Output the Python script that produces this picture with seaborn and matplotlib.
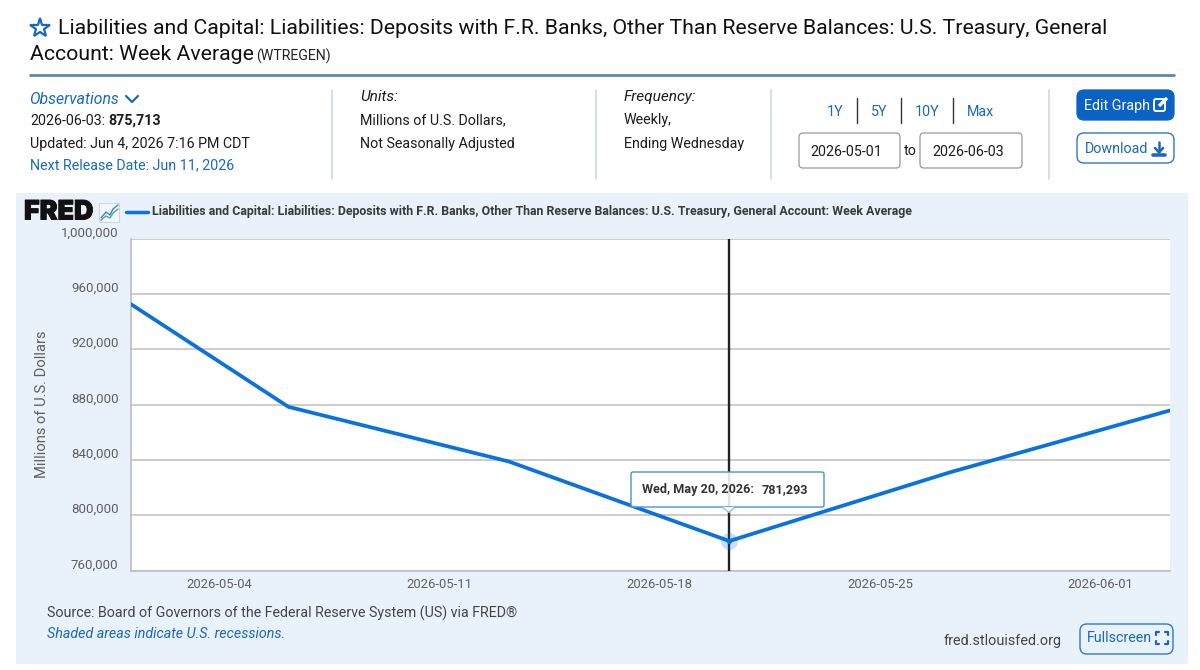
import matplotlib
matplotlib.use("Agg")
import matplotlib.pyplot as plt
import matplotlib.patches as mpatches
import matplotlib.patheffects as pe
from matplotlib.transforms import ScaledTranslation
import pandas as pd
import seaborn as sns

# Weekly series (range start plus Wednesday observations)
obs_dates = ["2026-05-01", "2026-05-06", "2026-05-13", "2026-05-20", "2026-05-27", "2026-06-03"]
obs_values = [952500, 878300, 838800, 781293, 830900, 875713]

y_ticks = [760000, 800000, 840000, 880000, 920000, 960000, 1000000]
x_tick_dates = ["2026-05-04", "2026-05-11", "2026-05-18", "2026-05-25", "2026-06-01"]

series_title = "Liabilities and Capital: Liabilities: Deposits with F.R. Banks, Other Than Reserve Balances: U.S. Treasury, General Account: Week Average"
hover_date = "2026-05-20"
hover_value = 781293
hover_label = "Wed, May 20, 2026:"

BLUE = "#0a72e0"
LINK = "#1a68bd"
BTN = "#0a63c4"
PANEL = "#e9f2fa"
GRID = "#c4c4c4"
TEXT = "#1b1b1b"
MUTED = "#5f5f5f"

sns.set_theme(style="white")
plt.rcParams["font.family"] = ["Roboto", "DejaVu Sans"]

W, H = 1200, 670
fig = plt.figure(figsize=(W / 100, H / 100), dpi=100, facecolor="white")

# Page layer in pixel coordinates (origin at top left)
page = fig.add_axes([0, 0, 1, 1], zorder=0)
page.set_xlim(0, W)
page.set_ylim(H, 0)
page.axis("off")


def label(layer, x, y, s, size=10.3, color=TEXT, **kw):
    kw.setdefault("va", "center")
    return layer.text(x, y + 1, s, fontsize=size, color=color, **kw)


def rounded(layer, x0, y0, x1, y1, r=6, fc="white", ec="#9a9a9a", lw=0.9, **kw):
    box = mpatches.FancyBboxPatch((x0 + r, y0 + r), x1 - x0 - 2 * r, y1 - y0 - 2 * r,
                                  boxstyle=f"round,pad={r},rounding_size={r}",
                                  fc=fc, ec=ec, lw=lw, **kw)
    layer.add_patch(box)
    return box


# Page header
page.plot([40.3], [27.5], marker="*", ms=14.5, mfc="none", mec=LINK, mew=1.6)
label(page, 58, 27.5, "Liabilities and Capital: Liabilities: Deposits with F.R. Banks, Other Than Reserve Balances: U.S. Treasury, General", size=15.33, color="#111111")
label(page, 30, 53, "Account: Week Average", size=15.33, color="#111111")
label(page, 256, 55, "(WTREGEN)", size=10.2, color="#222222")
page.plot([30, 1174], [74.5, 74.5], color="#5b81a6", lw=1.9)

for x in (332, 596, 771, 1049):
    page.plot([x, x], [90, 179], color="#ccd9e2", lw=1.2)

label(page, 29.5, 98, "Observations", color=LINK, style="italic", size=11.3)
page.plot([126, 132, 138], [96, 102, 96], color=LINK, lw=1.6)
label(page, 30, 120, "2026-06-03:")
label(page, 108, 120, "875,713", fontweight="bold")
label(page, 30, 143, "Updated: Jun 4, 2026 7:16 PM CDT")
label(page, 30, 164.5, "Next Release Date: Jun 11, 2026", color=LINK)

label(page, 360, 96, "Units:", style="italic", size=11.1)
label(page, 360, 119, "Millions of U.S. Dollars,")
label(page, 360, 143, "Not Seasonally Adjusted")
label(page, 624, 96, "Frequency:", style="italic", size=11.1)
label(page, 624, 119, "Weekly,")
label(page, 624, 143, "Ending Wednesday")

for x, s in zip((835, 879, 927, 980), ("1Y", "5Y", "10Y", "Max")):
    label(page, x, 111, s, color=LINK, ha="center")
for x in (857, 901, 953):
    page.plot([x, x], [98, 123], color="#333333", lw=1.0)

rounded(page, 799, 133, 900, 168, r=4)
rounded(page, 920, 133, 1022, 168, r=4)
label(page, 810, 151, "2026-05-01")
label(page, 932, 151, "2026-06-03")
label(page, 910, 150, "to", ha="center")

# Action buttons with their small glyphs
rounded(page, 1077, 90, 1174, 120, r=7, fc=BTN, ec=BTN)
label(page, 1084, 105, "Edit Graph", color="white")
page.add_patch(mpatches.FancyBboxPatch((1155, 100), 9, 10, boxstyle="round,pad=1,rounding_size=2", fc="none", ec="white", lw=1.4))
page.plot([1159, 1167], [106, 98], color="white", lw=2.4, solid_capstyle="butt")

rounded(page, 1077, 133, 1174, 163, r=7, ec="#2d78c8", lw=1.0)
label(page, 1085, 148, "Download", color=LINK)
page.plot([1159, 1159], [142, 152], color=LINK, lw=1.8)
page.plot([1155, 1159, 1163], [148, 152.5, 148], color=LINK, lw=1.8)
page.plot([1153, 1165], [155, 155], color=LINK, lw=2.6)

# Graph panel
page.add_patch(mpatches.Rectangle((16, 193), 1172, 471, fc=PANEL, ec="none"))
label(page, 24, 211.5, "FRED", size=19.3, color="#111111", fontweight="black", family="Inter",
      path_effects=[pe.withStroke(linewidth=0.7, foreground="#111111")])
page.add_patch(mpatches.Rectangle((99, 203), 20, 19, fc="#f4f7fa", ec="#cfd6dc", lw=0.8))
page.plot([101, 106, 110, 113, 118], [218, 212, 215, 209, 205], color="#3d85c6", lw=1.0)
page.plot([101, 106, 110, 113, 118], [220, 216, 218, 213, 209], color="#5aa58c", lw=1.0)
page.plot([126, 148], [212, 212], color=BLUE, lw=2.5)
label(page, 152, 211, series_title, size=8.9, color="#3a3a3a", fontweight="bold")
label(page, 47, 612.5, "Source: Board of Governors of the Federal Reserve System (US) via FRED®", color="#444444", size=10.22)
label(page, 47, 633.5, "Shaded areas indicate U.S. recessions.", color=LINK, style="italic", size=10.22)
label(page, 944, 640.5, "fred.stlouisfed.org", color="#444444", size=10.35)
rounded(page, 1080, 624, 1173, 654, r=7, fc=PANEL, ec="#2d78c8", lw=1.0)
label(page, 1087, 637.5, "Fullscreen", color=LINK)
for sx, sy in ((-1, -1), (1, -1), (-1, 1), (1, 1)):
    cx, cy = 1161.5 + sx * 6, 638 + sy * 6
    page.plot([cx - sx * 3, cx, cx], [cy, cy, cy - sy * 3], color=LINK, lw=1.6)

# Line chart
ax = fig.add_axes([131 / W, 1 - 570.5 / H, 1039 / W, 332 / H], zorder=1, facecolor="white")
frame = pd.DataFrame({"date": pd.to_datetime(obs_dates), "value": obs_values})
sns.lineplot(data=frame, x="date", y="value", ax=ax, color=BLUE, linewidth=2.7, zorder=4, errorbar=None)

ax.set_xlim(pd.Timestamp(obs_dates[0]), pd.Timestamp(obs_dates[-1]))
ax.set_ylim(y_ticks[0], y_ticks[-1])
ax.set_yticks(y_ticks)
ax.set_yticklabels([f"{v:,}" for v in y_ticks], fontsize=9.5, color=MUTED)
ax.tick_params(axis="y", length=0, pad=9)
# Tick labels sit just above their gridlines
for lab in ax.get_yticklabels():
    lab.set_transform(lab.get_transform() + ScaledTranslation(0, 7 / 100, fig.dpi_scale_trans))

# Date ticks fall on local midnight, five hours ahead of the UTC axis
tick_pos = [pd.Timestamp(d) - pd.Timedelta(hours=5) for d in x_tick_dates]
ax.set_xticks(tick_pos)
ax.set_xticklabels(x_tick_dates, fontsize=9.4, color=MUTED)
ax.tick_params(axis="x", length=5, width=0.8, color="#ccd6e0", pad=0.5)
ax.set_xlabel("")
ax.set_ylabel("Millions of U.S. Dollars", fontsize=10.6, color=MUTED)
ax.yaxis.set_label_coords((49 - 131) / 1039, 0.5)

ax.grid(axis="y", color=GRID, lw=1.2)
ax.grid(axis="x", visible=False)
ax.set_axisbelow(True)
sns.despine(ax=ax, top=True, right=True)
for side in ("left", "bottom"):
    ax.spines[side].set_color("#b9bfc4")
    ax.spines[side].set_linewidth(1.2)

hover_x = pd.Timestamp(hover_date)
ax.axvline(hover_x, color="#222222", lw=1.7, zorder=3)
ax.scatter([hover_x], [hover_value], s=150, color=BLUE, alpha=0.22, lw=0, zorder=5, clip_on=False)
ax.scatter([hover_x], [hover_value], s=14, color=BLUE, lw=0, zorder=6)

# Hover tooltip, anchored to the selected observation
top = fig.add_axes([0, 0, 1, 1], zorder=2, facecolor="none")
top.set_xlim(0, W)
top.set_ylim(H, 0)
top.axis("off")
rounded(top, 631, 472, 824, 507, r=2, fc=(1, 1, 1, 0.87), ec="#4a8fd6", lw=1.0, zorder=2)
top.add_patch(mpatches.Polygon([[722, 507], [735, 507], [729, 512.5]], closed=True, fc=(1, 1, 1, 0.95), ec="none", zorder=3))
top.plot([722, 729, 735], [507, 512.5, 507], color="#8db8e4", lw=0.9, zorder=3)
label(top, 642.5, 489, hover_label, size=9.1, color="#333333", fontweight="bold", zorder=4)
label(top, 761.5, 489, f"{hover_value:,}", size=9.1, color="#333333", fontweight="bold", zorder=4)

fig.savefig("out.png", dpi=100, facecolor="white")
